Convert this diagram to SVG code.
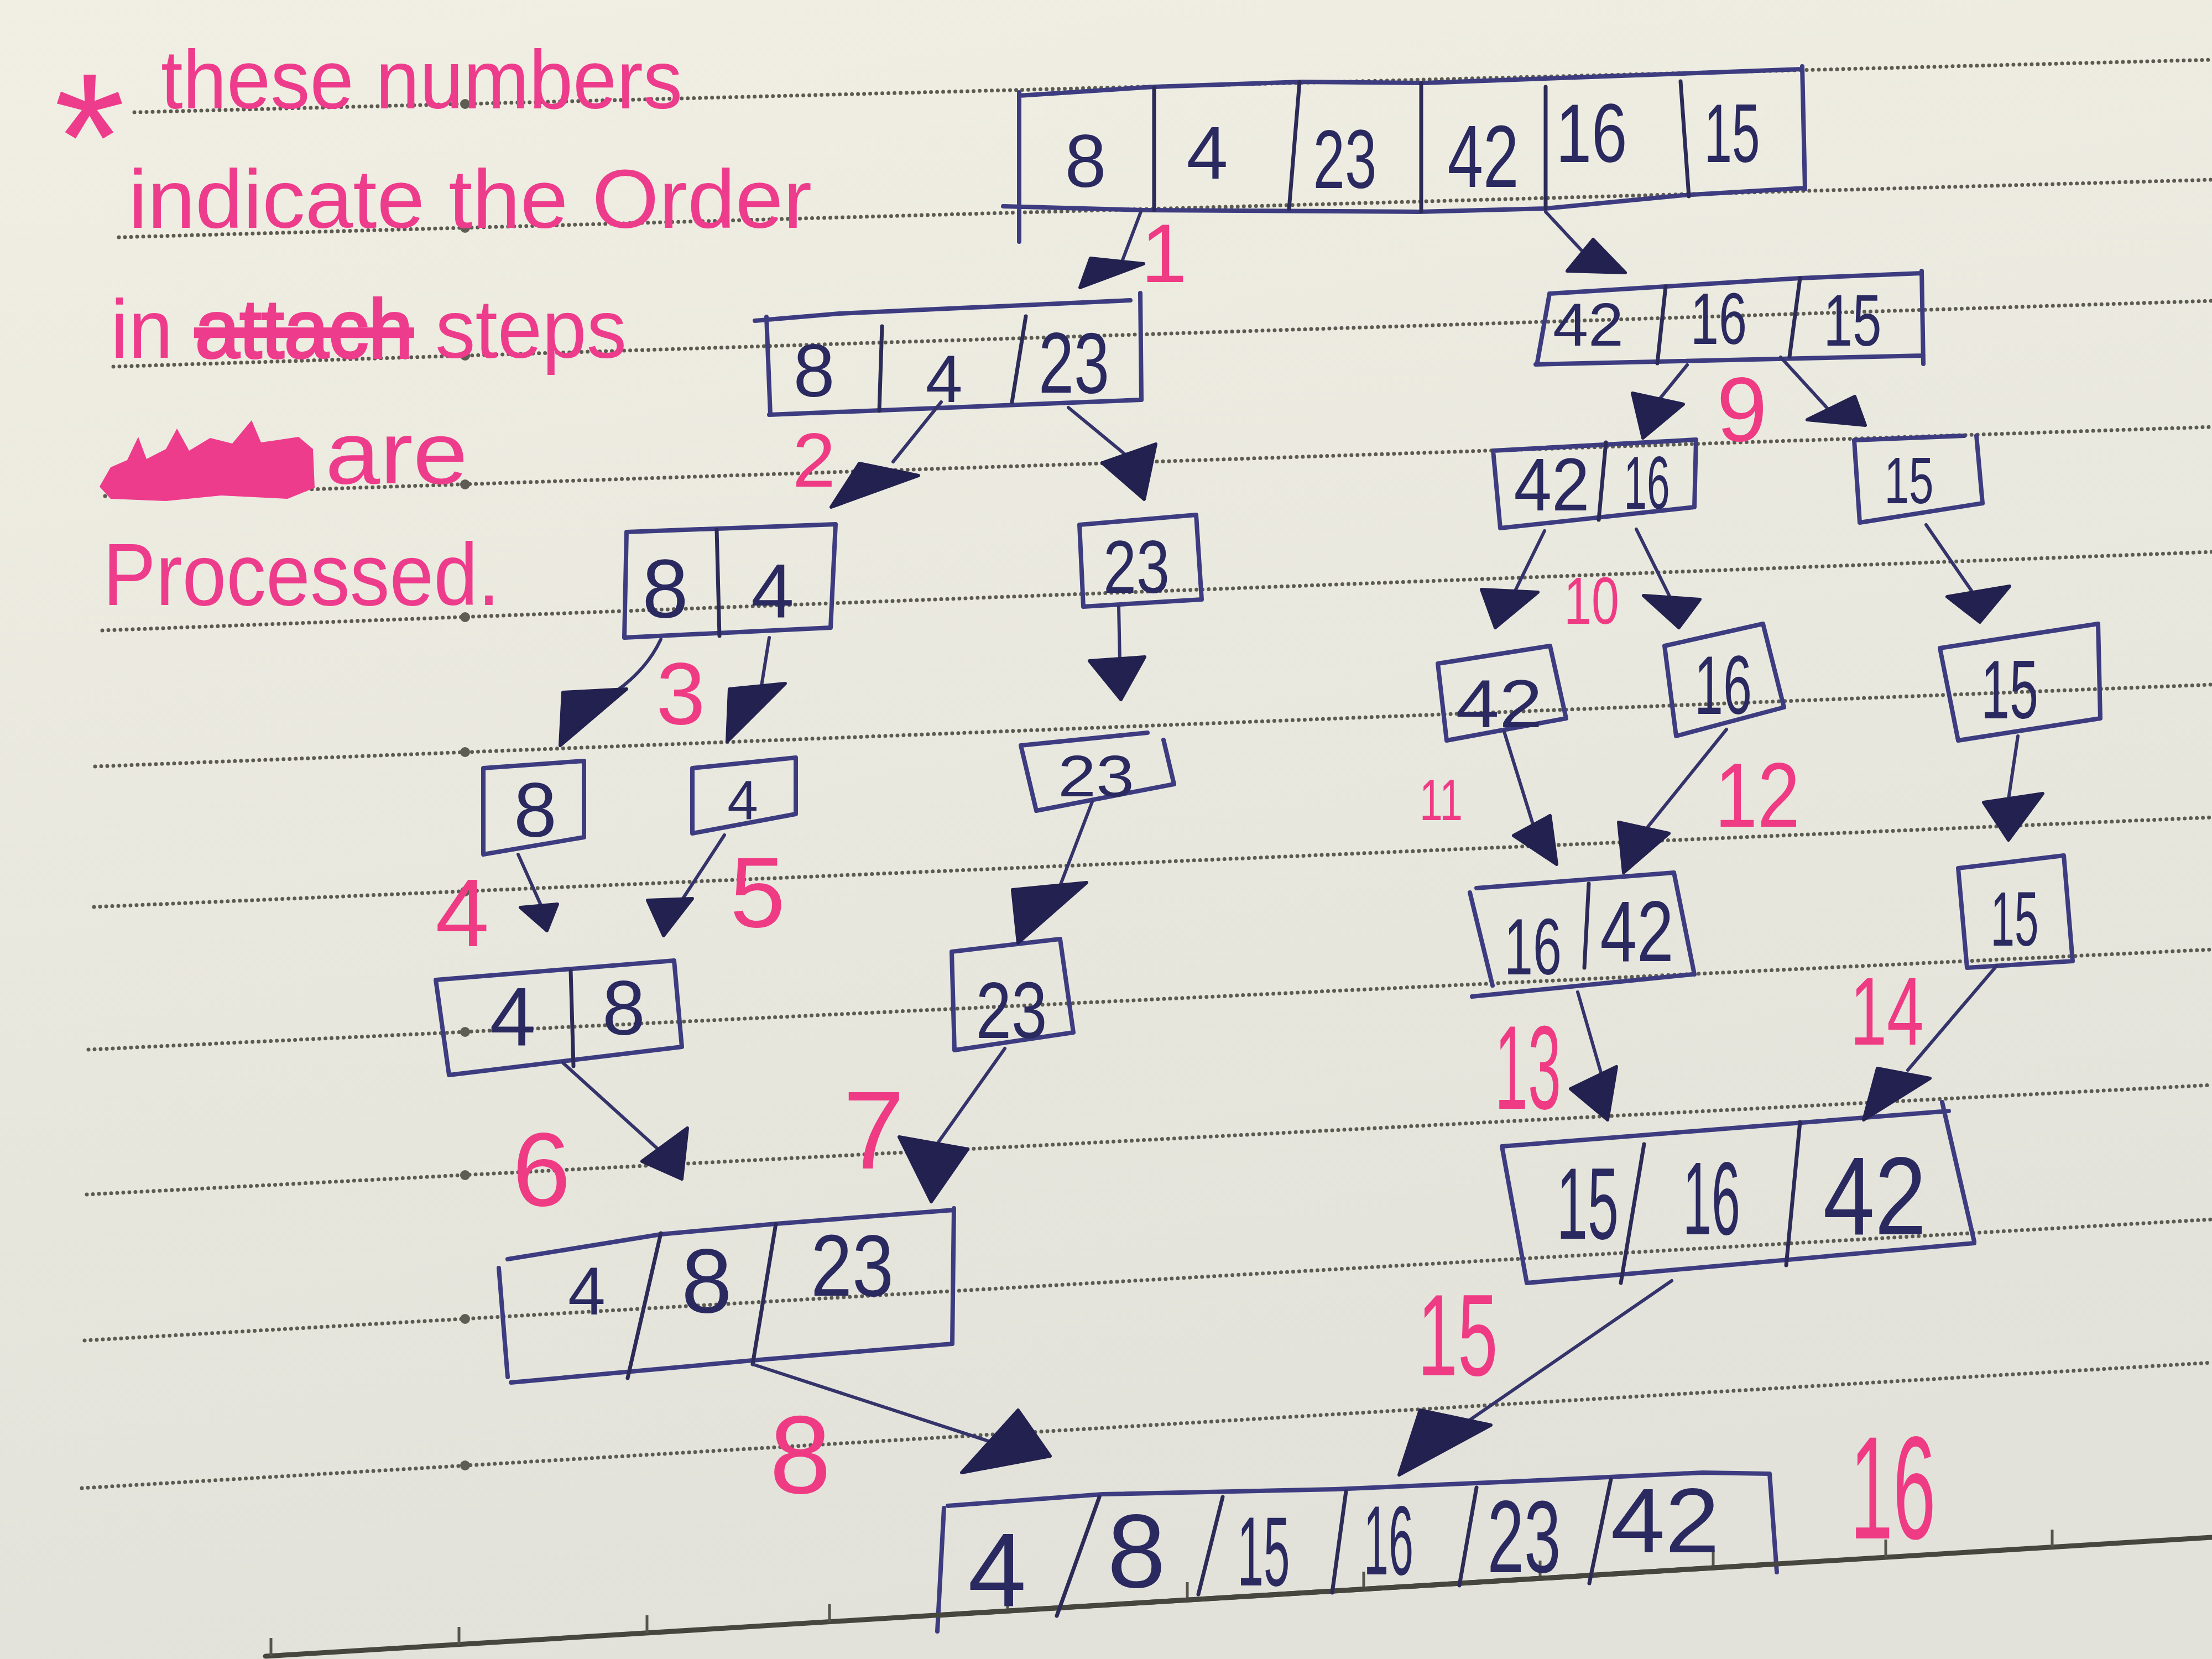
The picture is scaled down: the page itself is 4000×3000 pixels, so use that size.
<svg xmlns="http://www.w3.org/2000/svg" width="4000" height="3000" viewBox="0 0 4000 3000">
<defs>
<linearGradient id="paper" x1="0" y1="0" x2="0.25" y2="1">
<stop offset="0" stop-color="#f1efe3"/>
<stop offset="1" stop-color="#e2e2da"/>
</linearGradient>
<style>
.rule{fill:none;stroke:#5c5b52;stroke-width:7;stroke-linecap:round;stroke-dasharray:0 11}
.rdot{fill:#5e5d54}
.solid{fill:none;stroke:#46463f;stroke-width:9;stroke-linecap:round}
.tick{stroke:#55554e;stroke-width:5}
.box{fill:none;stroke:#3d3c80;stroke-width:8;stroke-linecap:round;stroke-linejoin:round}
.div{fill:none;stroke:#2c2b58;stroke-width:7;stroke-linecap:round}
.num{font-family:"Liberation Sans",Arial,sans-serif;fill:#2a2960;text-anchor:middle}
.wire{fill:none;stroke:#34336a;stroke-width:6;stroke-linecap:round}
.head{fill:#23214f;stroke:#23214f;stroke-width:6;stroke-linejoin:round}
.step{font-family:"Liberation Sans",Arial,sans-serif;fill:#ef3b84;text-anchor:middle}
.note{font-family:"Liberation Sans",Arial,sans-serif;fill:#ee3c8c}
</style>
</defs>
<rect x="0" y="0" width="4000" height="3000" fill="url(#paper)"/>
<g id="paper-lines">
<line class="rule" x1="243" y1="203" x2="4000" y2="108"/>
<line class="rule" x1="215" y1="429" x2="4000" y2="325"/>
<line class="rule" x1="205" y1="663" x2="4000" y2="544"/>
<line class="rule" x1="190" y1="897" x2="4000" y2="772"/>
<line class="rule" x1="185" y1="1140" x2="4000" y2="998"/>
<line class="rule" x1="172" y1="1386" x2="4000" y2="1238"/>
<line class="rule" x1="170" y1="1640" x2="4000" y2="1478"/>
<line class="rule" x1="160" y1="1898" x2="4000" y2="1717"/>
<line class="rule" x1="157" y1="2160" x2="4000" y2="1962"/>
<line class="rule" x1="153" y1="2424" x2="4000" y2="2205"/>
<line class="rule" x1="148" y1="2691" x2="4000" y2="2464"/>
<circle class="rdot" cx="841" cy="188" r="9"/>
<circle class="rdot" cx="841" cy="412" r="9"/>
<circle class="rdot" cx="841" cy="643" r="9"/>
<circle class="rdot" cx="841" cy="876" r="9"/>
<circle class="rdot" cx="841" cy="1116" r="9"/>
<circle class="rdot" cx="841" cy="1360" r="9"/>
<circle class="rdot" cx="841" cy="1612" r="9"/>
<circle class="rdot" cx="841" cy="1866" r="9"/>
<circle class="rdot" cx="841" cy="2125" r="9"/>
<circle class="rdot" cx="841" cy="2385" r="9"/>
<circle class="rdot" cx="841" cy="2650" r="9"/>
<line class="solid" x1="480" y1="2995" x2="4000" y2="2780"/>
<line class="tick" x1="490" y1="2994" x2="490" y2="2962"/>
<line class="tick" x1="830" y1="2974" x2="830" y2="2942"/>
<line class="tick" x1="1170" y1="2953" x2="1170" y2="2921"/>
<line class="tick" x1="1500" y1="2933" x2="1500" y2="2901"/>
<line class="tick" x1="1822" y1="2913" x2="1822" y2="2881"/>
<line class="tick" x1="2147" y1="2893" x2="2147" y2="2861"/>
<line class="tick" x1="2466" y1="2874" x2="2466" y2="2842"/>
<line class="tick" x1="2785" y1="2854" x2="2785" y2="2822"/>
<line class="tick" x1="3098" y1="2835" x2="3098" y2="2803"/>
<line class="tick" x1="3410" y1="2816" x2="3410" y2="2784"/>
<line class="tick" x1="3711" y1="2798" x2="3711" y2="2766"/>
</g>
<g id="note">
<text class="note" x="226" y="362" font-size="330" text-anchor="end">*</text>
<text class="note" x="291" y="196" font-size="150" textLength="943" lengthAdjust="spacingAndGlyphs">these numbers</text>
<text class="note" x="232" y="412" font-size="150" textLength="1236" lengthAdjust="spacingAndGlyphs">indicate the Order</text>
<text class="note" x="200" y="647" font-size="150" textLength="933" lengthAdjust="spacingAndGlyphs">in <tspan style="text-decoration:line-through;stroke:#ee3c8c;stroke-width:4">attach</tspan> steps</text>
<path d="M180,880 L200,845 L230,832 L250,790 L265,830 L300,812 L320,775 L342,815 L380,792 L420,802 L455,760 L472,800 L500,796 L540,790 L566,812 L569,882 L520,902 L400,896 L300,906 L200,902 Z" fill="#ee3c8c"/>
<text class="note" x="588" y="874" font-size="160" textLength="258" lengthAdjust="spacingAndGlyphs">are</text>
<text class="note" x="186" y="1094" font-size="160" textLength="718" lengthAdjust="spacingAndGlyphs">Processed.</text>
</g>
<g id="n-top">
<path class="box" d="M1843,173 L2087,157 L2355,148 L2575,150 L3259,125 M3259,120 L3264,342 M1814,373 L2068,380 L2566,383 L2795,377 L3044,353 L3264,340 M1843,167 L1843,437"/>
<path class="div" d="M2087,158 L2087,380 M2350,148 L2331,378 M2570,150 L2570,382 M2795,157 L2795,377 M3039,147 L3054,355"/>
<text class="num" font-size="135" x="1963" y="338">8</text>
<text class="num" font-size="135" x="2183" y="323">4</text>
<text class="num" font-size="150" x="2432" y="340" textLength="115" lengthAdjust="spacingAndGlyphs">23</text>
<text class="num" font-size="160" x="2682" y="338" textLength="129" lengthAdjust="spacingAndGlyphs">42</text>
<text class="num" font-size="150" x="2878" y="293" textLength="129" lengthAdjust="spacingAndGlyphs">16</text>
<text class="num" font-size="150" x="3132" y="293" textLength="101" lengthAdjust="spacingAndGlyphs">15</text>
</g>
<g id="n-8-4-23">
<path class="box" d="M1365,580 L1518,567 L2044,543 M2062,530 L2064,723 M1391,750 L2064,723 M1386,573 L1393,750"/>
<path class="div" d="M1595,590 L1590,743 M1855,572 L1830,727"/>
<text class="num" font-size="135" x="1472" y="717">8</text>
<text class="num" font-size="120" x="1707" y="727">4</text>
<text class="num" font-size="155" x="1942" y="710" textLength="128" lengthAdjust="spacingAndGlyphs">23</text>
</g>
<g id="n-42-16-15">
<path class="box" d="M2802,531 L3012,518 L3255,503 L3475,494 M3475,490 L3478,658 M2777,659 L3478,643 M2802,531 L2780,655"/>
<path class="div" d="M3012,518 L2997,657 M3255,503 L3236,645"/>
<text class="num" font-size="110" x="2872" y="625" textLength="128" lengthAdjust="spacingAndGlyphs">42</text>
<text class="num" font-size="132" x="3108" y="622" textLength="102" lengthAdjust="spacingAndGlyphs">16</text>
<text class="num" font-size="132" x="3350" y="625" textLength="105" lengthAdjust="spacingAndGlyphs">15</text>
</g>
<g id="n-8-4">
<path class="box" d="M1133,962 L1511,948 L1502,1135 L1129,1153 Z"/>
<path class="div" d="M1296,958 L1301,1150"/>
<text class="num" font-size="150" x="1203" y="1117">8</text>
<text class="num" font-size="140" x="1397" y="1117">4</text>
</g>
<g id="n-23-a">
<path class="box" d="M1952,949 L2163,931 L2173,1084 L1959,1097 Z"/>
<text class="num" font-size="135" x="2055" y="1072" textLength="120" lengthAdjust="spacingAndGlyphs">23</text>
</g>
<g id="n-42-16">
<path class="box" d="M2700,815 L3067,795 L3064,917 L2713,955 Z"/>
<path class="div" d="M2904,800 L2891,940"/>
<text class="num" font-size="135" x="2806" y="923" textLength="137" lengthAdjust="spacingAndGlyphs">42</text>
<text class="num" font-size="135" x="2978" y="920" textLength="83" lengthAdjust="spacingAndGlyphs">16</text>
</g>
<g id="n-15-a">
<path class="box" d="M3353,796 L3552,788 M3574,788 L3585,910 M3363,945 L3585,910 M3353,796 L3363,945"/>
<text class="num" font-size="118" x="3452" y="910" textLength="89" lengthAdjust="spacingAndGlyphs">15</text>
</g>
<g id="n-8">
<path class="box" d="M874,1389 L1056,1376 L1056,1514 L874,1545 Z"/>
<text class="num" font-size="140" x="968" y="1513">8</text>
</g>
<g id="n-4">
<path class="box" d="M1252,1389 L1439,1370 L1439,1472 L1252,1507 Z"/>
<text class="num" font-size="100" x="1343" y="1482">4</text>
</g>
<g id="n-23-b">
<path class="box" d="M1846,1348 L2075,1325 M2104,1338 L2123,1418 M1874,1466 L2123,1418 M1846,1348 L1874,1466"/>
<text class="num" font-size="105" x="1982" y="1440" textLength="138" lengthAdjust="spacingAndGlyphs">23</text>
</g>
<g id="n-42">
<path class="box" d="M2600,1200 L2803,1168 L2832,1299 L2616,1339 Z"/>
<text class="num" font-size="122" x="2711" y="1315" textLength="157" lengthAdjust="spacingAndGlyphs">42</text>
</g>
<g id="n-16">
<path class="box" d="M3010,1168 L3188,1128 L3226,1279 L3031,1331 Z"/>
<text class="num" font-size="150" x="3116" y="1291" textLength="104" lengthAdjust="spacingAndGlyphs">16</text>
</g>
<g id="n-15-b">
<path class="box" d="M3508,1172 L3794,1128 L3798,1299 L3541,1339 Z"/>
<text class="num" font-size="150" x="3634" y="1299" textLength="104" lengthAdjust="spacingAndGlyphs">15</text>
</g>
<g id="n-4-8">
<path class="box" d="M788,1772 L1219,1737 L1233,1893 L812,1944 Z"/>
<path class="div" d="M1032,1755 L1037,1928"/>
<text class="num" font-size="150" x="927" y="1890">4</text>
<text class="num" font-size="140" x="1128" y="1871">8</text>
</g>
<g id="n-23-c">
<path class="box" d="M1721,1721 L1917,1698 L1941,1867 L1726,1899 Z"/>
<text class="num" font-size="145" x="1829" y="1877" textLength="129" lengthAdjust="spacingAndGlyphs">23</text>
</g>
<g id="n-16-42">
<path class="box" d="M2670,1606 L3027,1578 L3064,1762 M2658,1614 L2699,1782 M2662,1802 L3060,1762"/>
<path class="div" d="M2873,1598 L2865,1750"/>
<text class="num" font-size="145" x="2772" y="1762" textLength="104" lengthAdjust="spacingAndGlyphs">16</text>
<text class="num" font-size="155" x="2960" y="1738" textLength="133" lengthAdjust="spacingAndGlyphs">42</text>
</g>
<g id="n-15-c">
<path class="box" d="M3541,1570 L3732,1547 L3748,1738 L3557,1750 Z"/>
<text class="num" font-size="140" x="3643" y="1710" textLength="87" lengthAdjust="spacingAndGlyphs">15</text>
</g>
<g id="n-4-8-23">
<path class="box" d="M918,2277 L1195,2232 L1403,2213 L1725,2188 M1725,2185 L1722,2430 M924,2500 L1361,2460 L1722,2430 M902,2293 L918,2490"/>
<path class="div" d="M1195,2230 L1135,2492 M1403,2213 L1361,2467"/>
<text class="num" font-size="122" x="1061" y="2377">4</text>
<text class="num" font-size="165" x="1278" y="2373">8</text>
<text class="num" font-size="158" x="1541" y="2343" textLength="150" lengthAdjust="spacingAndGlyphs">23</text>
</g>
<g id="n-15-16-42">
<path class="box" d="M2716,2073 L3524,2009 M3512,1993 L3570,2245 M2761,2320 L3570,2248 M2716,2073 L2761,2320"/>
<path class="div" d="M2973,2069 L2931,2320 M3255,2029 L3230,2288"/>
<text class="num" font-size="183" x="2871" y="2240" textLength="112" lengthAdjust="spacingAndGlyphs">15</text>
<text class="num" font-size="188" x="3095" y="2232" textLength="104" lengthAdjust="spacingAndGlyphs">16</text>
<text class="num" font-size="200" x="3390" y="2232" textLength="187" lengthAdjust="spacingAndGlyphs">42</text>
</g>
<g id="n-final">
<path class="box" d="M1714,2723 L1994,2702 L2415,2693 L2760,2678 L3079,2663 L3200,2665 L3213,2843 M1707,2727 L1695,2950"/>
<path class="solid" d="M1695,2921 L3213,2828"/>
<path class="div" d="M1988,2707 L1911,2922 M2211,2707 L2167,2883 M2434,2697 L2409,2880 M2670,2690 L2639,2867 M2913,2675 L2874,2863"/>
<text class="num" font-size="190" x="1803" y="2905">4</text>
<text class="num" font-size="190" x="2055" y="2870">8</text>
<text class="num" font-size="178" x="2285" y="2867" textLength="95" lengthAdjust="spacingAndGlyphs">15</text>
<text class="num" font-size="178" x="2511" y="2847" textLength="90" lengthAdjust="spacingAndGlyphs">16</text>
<text class="num" font-size="185" x="2756" y="2843" textLength="133" lengthAdjust="spacingAndGlyphs">23</text>
<text class="num" font-size="165" x="3011" y="2807" textLength="197" lengthAdjust="spacingAndGlyphs">42</text>
</g>
<g id="connectors">
<path class="wire" d="M2063,383 L2030,470"/><polygon class="head" points="1972,467 2068,477 1953,520"/>
<path class="wire" d="M2795,383 L2862,455"/><polygon class="head" points="2881,433 2939,493 2834,490"/>
<path class="wire" d="M1702,727 L1615,835"/><polygon class="head" points="1554,838 1661,860 1503,917"/>
<path class="wire" d="M1932,737 L2035,822"/><polygon class="head" points="1993,837 2090,803 2069,903"/>
<path class="wire" d="M3051,660 L2990,735"/><polygon class="head" points="2952,711 3044,731 2971,792"/>
<path class="wire" d="M3220,646 L3306,740"/><polygon class="head" points="3354,717 3373,769 3268,759"/>
<path class="wire" d="M1195,1156 Q1170,1210 1114,1250"/><polygon class="head" points="1018,1252 1133,1246 1013,1348"/>
<path class="wire" d="M1391,1153 L1377,1240"/><polygon class="head" points="1319,1246 1420,1236 1315,1341"/>
<path class="wire" d="M2023,1097 L2025,1195"/><polygon class="head" points="1970,1195 2070,1188 2027,1265"/>
<path class="wire" d="M2793,960 L2740,1068"/><polygon class="head" points="2679,1066 2781,1071 2704,1135"/>
<path class="wire" d="M2959,957 L3020,1080"/><polygon class="head" points="2972,1077 3074,1084 3036,1135"/>
<path class="wire" d="M3483,949 L3567,1071"/><polygon class="head" points="3521,1079 3634,1060 3580,1125"/>
<path class="wire" d="M937,1545 L984,1650"/><polygon class="head" points="941,1641 1008,1635 989,1683"/>
<path class="wire" d="M1310,1510 L1225,1640"/><polygon class="head" points="1171,1628 1252,1625 1200,1692"/>
<path class="wire" d="M1975,1450 L1913,1612"/><polygon class="head" points="1831,1609 1965,1596 1841,1705"/>
<path class="wire" d="M2720,1323 L2775,1500"/><polygon class="head" points="2737,1511 2803,1475 2815,1563"/>
<path class="wire" d="M3122,1319 L2980,1495"/><polygon class="head" points="2927,1487 3018,1507 2936,1578"/>
<path class="wire" d="M3649,1331 L3632,1445"/><polygon class="head" points="3587,1451 3694,1435 3632,1519"/>
<path class="wire" d="M1018,1922 L1190,2078"/><polygon class="head" points="1161,2100 1243,2040 1233,2132"/>
<path class="wire" d="M1817,1896 L1695,2068"/><polygon class="head" points="1626,2056 1750,2078 1684,2173"/>
<path class="wire" d="M2853,1794 L2898,1950"/><polygon class="head" points="2840,1969 2923,1929 2907,2025"/>
<path class="wire" d="M3611,1746 L3450,1935"/><polygon class="head" points="3395,1932 3490,1950 3370,2025"/>
<path class="wire" d="M1361,2467 L1800,2610"/><polygon class="head" points="1841,2550 1899,2633 1739,2663"/>
<path class="wire" d="M3023,2316 L2640,2580"/><polygon class="head" points="2568,2550 2696,2577 2530,2667"/>
</g>
<g id="step-labels">
<text class="step" font-size="150" x="2105" y="510">1</text>
<text class="step" font-size="140" x="1472" y="880">2</text>
<text class="step" font-size="160" x="1231" y="1309">3</text>
<text class="step" font-size="175" x="836" y="1711">4</text>
<text class="step" font-size="180" x="1370" y="1676">5</text>
<text class="step" font-size="190" x="979" y="2180">6</text>
<text class="step" font-size="200" x="1580" y="2113">7</text>
<text class="step" font-size="200" x="1447" y="2700">8</text>
<text class="step" font-size="165" x="3150" y="797">9</text>
<text class="step" font-size="120" x="2878" y="1128" textLength="100" lengthAdjust="spacingAndGlyphs">10</text>
<text class="step" font-size="105" x="2606" y="1483" textLength="78" lengthAdjust="spacingAndGlyphs">11</text>
<text class="step" font-size="165" x="3178" y="1495" textLength="154" lengthAdjust="spacingAndGlyphs">12</text>
<text class="step" font-size="215" x="2763" y="2005" textLength="120" lengthAdjust="spacingAndGlyphs">13</text>
<text class="step" font-size="175" x="3412" y="1889" textLength="133" lengthAdjust="spacingAndGlyphs">14</text>
<text class="step" font-size="210" x="2636" y="2487" textLength="145" lengthAdjust="spacingAndGlyphs">15</text>
<text class="step" font-size="265" x="3423" y="2782" textLength="155" lengthAdjust="spacingAndGlyphs">16</text>
</g>
</svg>
